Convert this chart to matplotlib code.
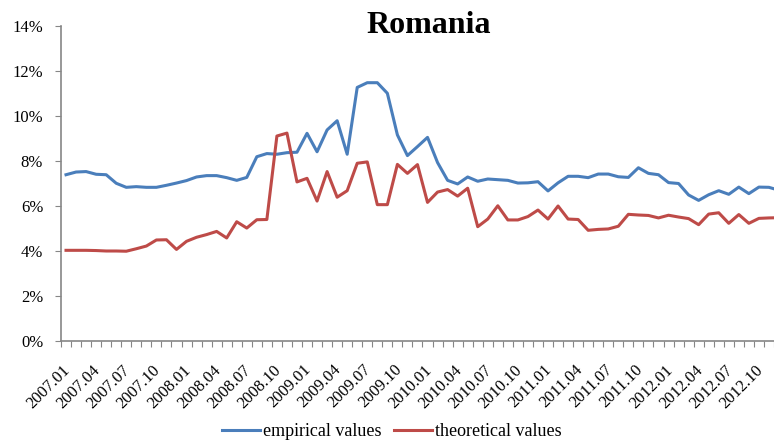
import matplotlib.pyplot as plt
from matplotlib.ticker import FuncFormatter

# monthly data, 2007.01 - 2012.12
months = [f"{y}.{m:02d}" for y in range(2007, 2013) for m in range(1, 13)]

empirical = [7.39, 7.51, 7.53, 7.41, 7.39, 7.01, 6.83, 6.86, 6.83, 6.83, 6.92, 7.02,
             7.13, 7.29, 7.35, 7.35, 7.26, 7.14, 7.27, 8.19, 8.33, 8.30, 8.37, 8.39,
             9.23, 8.41, 9.38, 9.79, 8.30, 11.27, 11.48, 11.48, 11.01, 9.16, 8.24, 8.64,
             9.05, 7.93, 7.14, 6.98, 7.29, 7.10, 7.20, 7.17, 7.14, 7.02, 7.03, 7.08,
             6.67, 7.03, 7.32, 7.32, 7.26, 7.42, 7.42, 7.30, 7.27, 7.70, 7.45, 7.39,
             7.04, 7.00, 6.49, 6.25, 6.50, 6.68, 6.52, 6.84, 6.55, 6.84, 6.83, 6.70]

theoretical = [4.03, 4.03, 4.03, 4.02, 4.00, 4.00, 3.99, 4.10, 4.22, 4.49, 4.50, 4.07,
               4.43, 4.61, 4.73, 4.87, 4.58, 5.30, 5.02, 5.39, 5.40, 9.11, 9.24, 7.07,
               7.23, 6.22, 7.53, 6.39, 6.68, 7.90, 7.96, 6.06, 6.06, 7.85, 7.45, 7.84,
               6.16, 6.62, 6.73, 6.44, 6.79, 5.08, 5.42, 6.01, 5.38, 5.38, 5.53, 5.82,
               5.42, 6.00, 5.42, 5.40, 4.92, 4.96, 4.98, 5.10, 5.63, 5.60, 5.58, 5.47,
               5.59, 5.51, 5.44, 5.17, 5.64, 5.70, 5.23, 5.62, 5.23, 5.45, 5.47, 5.48]

plt.rcParams['font.family'] = ['Liberation Serif', 'DejaVu Serif']

fig = plt.figure(figsize=(7.74, 4.47), dpi=100)
ax = fig.add_axes([61 / 774, 106 / 447, 723 / 774, 315 / 447])

x = list(range(len(months)))
ax.plot(x, empirical, color="#4A7EBB", linewidth=2.2, label="empirical values")
ax.plot(x, theoretical, color="#BE4B48", linewidth=2.2, label="theoretical values")

ax.set_ylim(0, 14)
ax.set_yticks(range(0, 15, 2))
ax.yaxis.set_major_formatter(FuncFormatter(lambda v, p: f"{v:.0f}%"))
ax.set_xlim(-0.5, len(months) - 0.5)

# boundary ticks (major) and labels near category centres (minor)
ax.set_xticks([i - 0.5 for i in range(len(months) + 1)])
ax.set_xticklabels([])
ax.set_xticks([i - 0.4 for i in x[::3]], minor=True)
ax.set_xticklabels(months[::3], minor=True, rotation=45, ha="right", va="top",
                   rotation_mode="anchor", fontsize=12)
ax.tick_params(axis="x", which="major", length=4, color="#868686", direction="out")
ax.tick_params(axis="x", which="minor", length=0, pad=15)
ax.tick_params(axis="y", length=4.3, color="#868686", labelsize=12, pad=8.5)

for s in ["top", "right"]:
    ax.spines[s].set_visible(False)
for s in ["left", "bottom"]:
    ax.spines[s].set_color("#868686")
    ax.spines[s].set_linewidth(1.2)

fig.text(429 / 774, 1 - 33 / 447, "Romania", ha="center", va="baseline",
         fontsize=23, fontweight="bold")

fig.legend(loc="center", bbox_to_anchor=(392 / 774, 1 - 432 / 447), ncol=2,
           frameon=False, fontsize=13, handlelength=2.1, handletextpad=0.17,
           columnspacing=0.7)

fig.savefig("out.png", dpi=100)
